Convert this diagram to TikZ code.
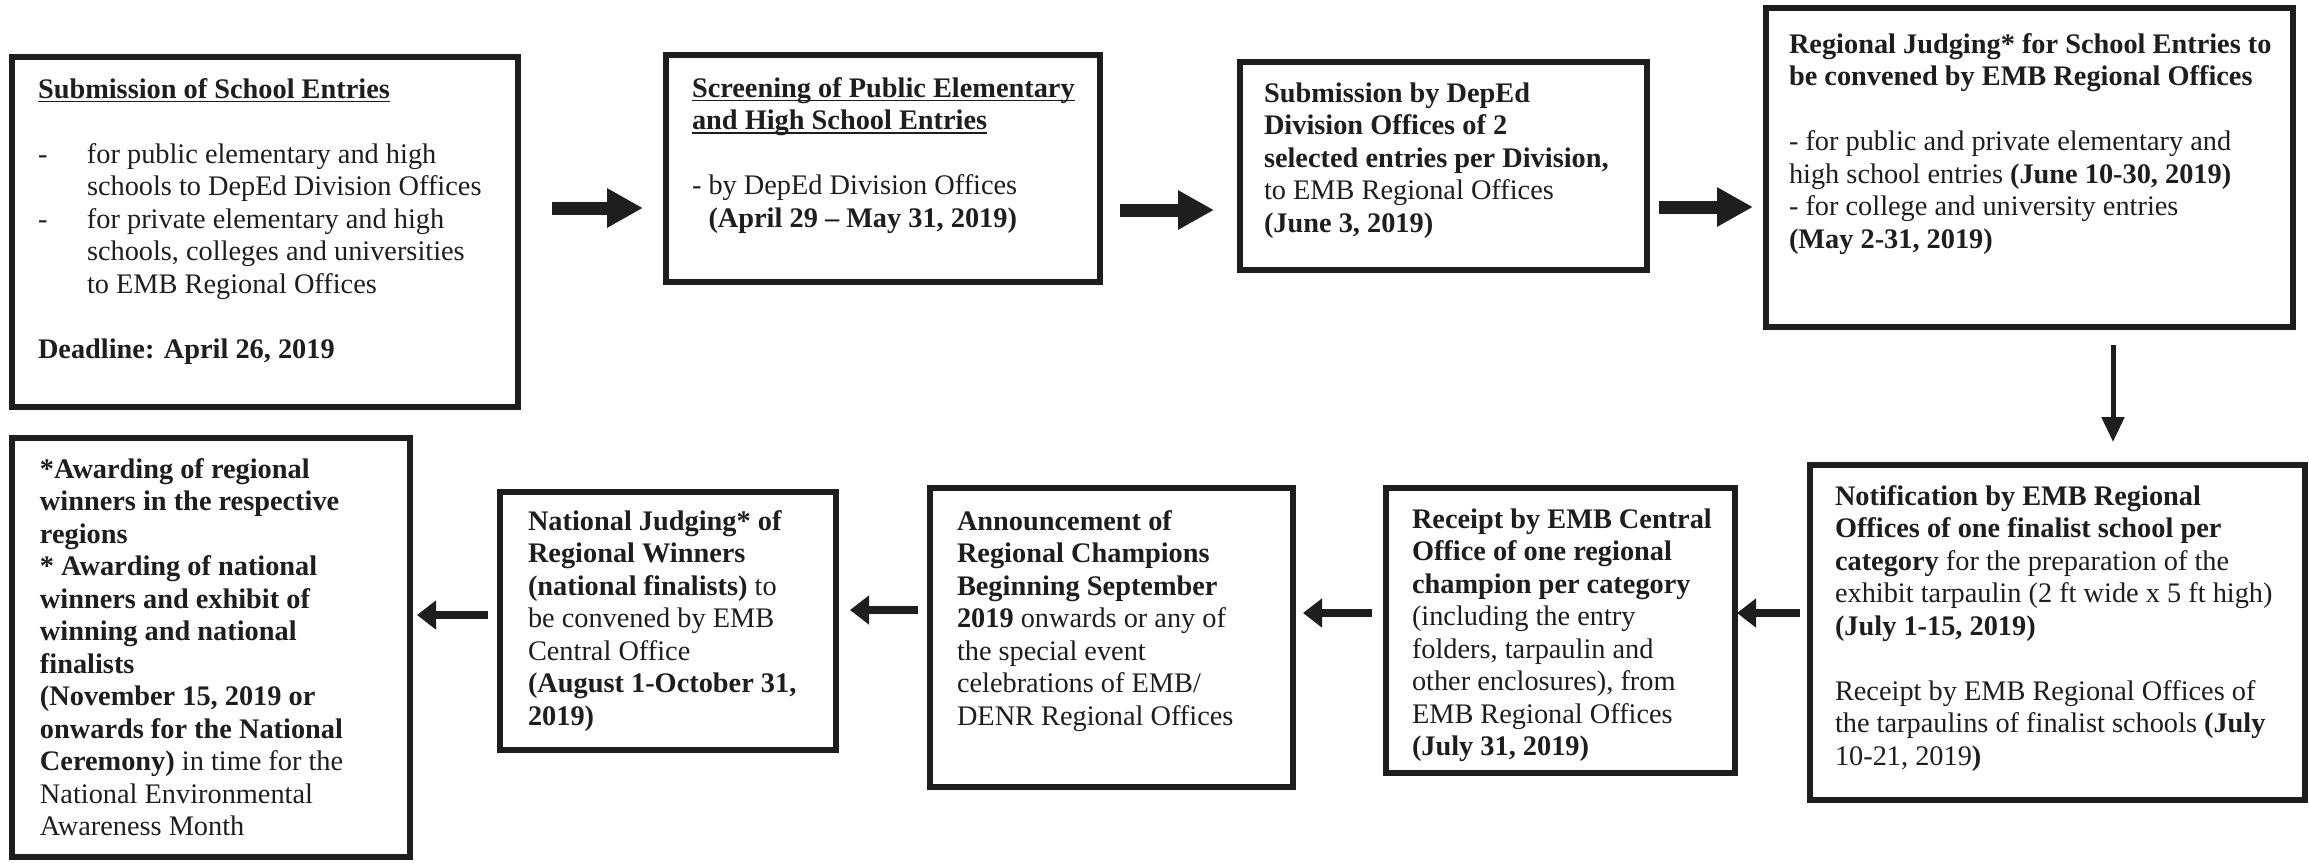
\documentclass[tikz,border=0pt]{standalone}
\usepackage{fontspec}
\setmainfont{Liberation Serif}
\usetikzlibrary{arrows.meta}
\definecolor{ink}{HTML}{1E1E1E}
\newcommand\bitem[1]{\makebox[14.7pt][l]{#1}}
\newcommand\ulx[1]{\setbox0\hbox{#1}\rlap{\rule[-1.3pt]{\wd0}{0.55pt}}\box0}
\tikzset{
  box/.style={draw=ink, line width=1.8pt, inner sep=0pt, outer sep=0pt, anchor=north west},
  txt/.style={anchor=north west, inner sep=0pt, outer sep=0pt, align=left,
              font=\fontsize{8.5pt}{9.75pt}\selectfont, text=ink},
  bigarrow/.style={draw=ink, line width=3.9pt, -{Triangle[length=10.8pt,width=11.1pt]}},
  smallarrow/.style={draw=ink, line width=2.4pt, -{Triangle[length=5.7pt,width=8.4pt]}},
  thinarrow/.style={draw=ink, line width=1.5pt, -{Triangle[length=7.5pt,width=6.6pt]}},
}
\begin{document}
\begin{tikzpicture}[x=0.3pt,y=-0.3pt]
\useasboundingbox[fill=white] (0,0) rectangle (2309,862);

% boxes
\node[box, minimum width=151.8pt, minimum height=105pt]   (b1) at (12,57) {};
\node[box, minimum width=130.2pt, minimum height=68.1pt]  (b2) at (666,55) {};
\node[box, minimum width=122.1pt, minimum height=62.4pt]  (b3) at (1240,62) {};
\node[box, minimum width=158.1pt, minimum height=95.7pt]  (b4) at (1766,8) {};
\node[box, minimum width=148.5pt, minimum height=100.5pt] (b5) at (1810,465) {};
\node[box, minimum width=104.7pt, minimum height=85.5pt]  (b6) at (1386,488) {};
\node[box, minimum width=108.9pt, minimum height=89.7pt]  (b7) at (930,488) {};
\node[box, minimum width=100.8pt, minimum height=77.4pt]  (b8) at (500,492) {};
\node[box, minimum width=119.4pt, minimum height=125.7pt] (b9) at (12,438) {};

% texts
\node[txt] (t1) at (38,75.25) {\strut\ulx{\textbf{Submission of School Entries}}\\[9.75pt]
\bitem{-}for public elementary and high\\
\bitem{}schools to DepEd Division Offices\\
\bitem{-}for private elementary and high\\
\bitem{}schools, colleges and universities\\
\bitem{}to EMB Regional Offices\\[9.75pt]
\textbf{Deadline: April 26, 2019}};

\node[txt] (t2) at (692,74.25) {\strut\ulx{\textbf{Screening of Public Elementary}}\\
\ulx{\textbf{and High School Entries}}\\[9.75pt]
- by DepEd Division Offices\\
\hphantom{-\ }\textbf{(April 29 – May 31, 2019)}};

\node[txt] (t3) at (1264,79.25) {\strut\textbf{Submission by DepEd}\\
\textbf{Division Offices of 2}\\
\textbf{selected entries per Division,}\\
to EMB Regional Offices\\
\textbf{(June 3, 2019)}};

\node[txt] (t4) at (1789,30.25) {\strut\textbf{Regional Judging* for School Entries to}\\
\textbf{be convened by EMB Regional Offices}\\[9.75pt]
- for public and private elementary and\\
high school entries \textbf{(June 10-30, 2019)}\\
- for college and university entries\\
\textbf{(May 2-31, 2019)}};

\node[txt] (t5) at (1835,482.25) {\strut\textbf{Notification by EMB Regional}\\
\textbf{Offices of one finalist school per}\\
\textbf{category} for the preparation of the\\
exhibit tarpaulin (2 ft wide x 5 ft high)\\
\textbf{(July 1-15, 2019)}\\[9.75pt]
Receipt by EMB Regional Offices of\\
the tarpaulins of finalist schools \textbf{(July}\\
10-21, 2019\textbf{)}};

\node[txt] (t6) at (1412,505.25) {\strut\textbf{Receipt by EMB Central}\\
\textbf{Office of one regional}\\
\textbf{champion per category}\\
(including the entry\\
folders, tarpaulin and\\
other enclosures), from\\
EMB Regional Offices\\
\textbf{(July 31, 2019)}};

\node[txt] (t7) at (957,507.25) {\strut\textbf{Announcement of}\\
\textbf{Regional Champions}\\
\textbf{Beginning September}\\
\textbf{2019} onwards or any of\\
the special event\\
celebrations of EMB/\\
DENR Regional Offices};

\node[txt] (t8) at (528,507.25) {\strut\textbf{National Judging* of}\\
\textbf{Regional Winners}\\
\textbf{(national finalists)} to\\
be convened by EMB\\
Central Office\\
\textbf{(August 1-October 31,}\\
\textbf{2019)}};

\node[txt] (t9) at (40,455.25) {\strut\textbf{*Awarding of regional}\\
\textbf{winners in the respective}\\
\textbf{regions}\\
\textbf{* Awarding of national}\\
\textbf{winners and exhibit of}\\
\textbf{winning and national}\\
\textbf{finalists}\\
\textbf{(November 15, 2019 or}\\
\textbf{onwards for the National}\\
\textbf{Ceremony)} in time for the\\
National Environmental\\
Awareness Month};

% connector levels
\coordinate (ya) at (0,208);
\coordinate (yb) at (0,210);
\coordinate (yc) at (0,207);
\coordinate (xd) at (2113,0);
\coordinate (yd) at (0,613);
\coordinate (ye) at (0,610);
\coordinate (yf) at (0,615);

% connectors
\draw[bigarrow, shorten <=10.2pt, shorten >=6.9pt] (b1.east |- ya) -- (b2.west |- ya);
\draw[bigarrow, shorten <=6pt, shorten >=7.8pt] (b2.east |- yb) -- (b3.west |- yb);
\draw[bigarrow, shorten <=3.6pt, shorten >=3.9pt] (b3.east |- yc) -- (b4.west |- yc);
\draw[thinarrow, shorten <=5.4pt, shorten >=6.9pt] (b4.south -| xd) -- (b5.north -| xd);
\draw[smallarrow, shorten <=3pt, shorten >=0.6pt] (b5.west |- yd) -- (b6.east |- yd);
\draw[smallarrow, shorten <=4.2pt, shorten >=3pt] (b6.west |- yd) -- (b7.east |- yd);
\draw[smallarrow, shorten <=3.6pt, shorten >=4.2pt] (b7.west |- ye) -- (b8.east |- ye);
\draw[smallarrow, shorten <=3.6pt, shorten >=2.1pt] (b8.west |- yf) -- (b9.east |- yf);
\end{tikzpicture}
\end{document}
